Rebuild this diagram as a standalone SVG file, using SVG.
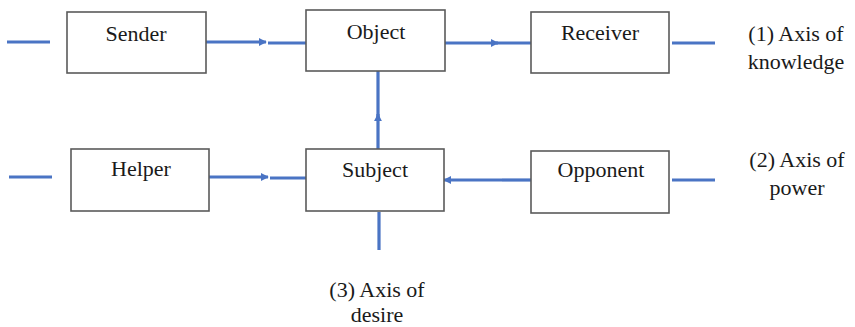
<svg xmlns="http://www.w3.org/2000/svg" width="855" height="327" viewBox="0 0 855 327">
<style>
.box{fill:#fff;stroke:#5a5a5a;stroke-width:1.6}
.lbl{font-size:22px;fill:#1a1a1a;text-anchor:middle}
.ln{stroke:#4a74c4;stroke-width:3.2;fill:none}
</style>
<defs>
<marker id="ah" viewBox="0 0 10 10" refX="9" refY="5" markerWidth="2.6" markerHeight="2.6" orient="auto" markerUnits="strokeWidth">
<path d="M0,0 L10,5 L0,10 z" fill="#4a74c4"/>
</marker>
</defs>
<g id="connectors">
<line class="ln" x1="7" y1="42" x2="50" y2="42"/>
<line class="ln" x1="206" y1="42" x2="266" y2="42" marker-end="url(#ah)"/>
<line class="ln" x1="268" y1="43" x2="306" y2="43"/>
<line class="ln" x1="445" y1="43" x2="498" y2="43" marker-end="url(#ah)"/>
<line class="ln" x1="496" y1="43" x2="531" y2="43"/>
<line class="ln" x1="672" y1="43" x2="715" y2="43"/>
<line class="ln" x1="378" y1="149" x2="378" y2="114" marker-end="url(#ah)"/>
<line class="ln" x1="378" y1="118" x2="378" y2="71"/>
<line class="ln" x1="9" y1="177" x2="52" y2="177"/>
<line class="ln" x1="209" y1="177" x2="268" y2="177" marker-end="url(#ah)"/>
<line class="ln" x1="270" y1="178" x2="306" y2="178"/>
<line class="ln" x1="531" y1="180" x2="502" y2="180"/>
<line class="ln" x1="502" y1="180" x2="444" y2="180" marker-end="url(#ah)"/>
<line class="ln" x1="672" y1="180" x2="715" y2="180"/>
<line class="ln" x1="379" y1="212" x2="379" y2="250"/>
</g>
<g font-family="Liberation Serif, DejaVu Serif, serif">
<g id="sender"><rect class="box" x="67" y="12" width="139" height="61"/><text class="lbl" x="136" y="41">Sender</text></g>
<g id="object"><rect class="box" x="306" y="10" width="139" height="61"/><text class="lbl" x="376" y="39">Object</text></g>
<g id="receiver"><rect class="box" x="531" y="12" width="138" height="61"/><text class="lbl" x="600" y="40">Receiver</text></g>
<g id="helper"><rect class="box" x="71" y="149" width="138" height="62"/><text class="lbl" x="141" y="176">Helper</text></g>
<g id="subject"><rect class="box" x="306" y="149" width="138" height="62"/><text class="lbl" x="375" y="177">Subject</text></g>
<g id="opponent"><rect class="box" x="531" y="151" width="138" height="62"/><text class="lbl" x="601" y="177">Opponent</text></g>
<g id="axis1"><text class="lbl" x="796" y="41">(1) Axis of</text><text class="lbl" x="796" y="69">knowledge</text></g>
<g id="axis2"><text class="lbl" x="797" y="167">(2) Axis of</text><text class="lbl" x="797" y="195">power</text></g>
<g id="axis3"><text class="lbl" x="377" y="297">(3) Axis of</text><text class="lbl" x="377" y="322">desire</text></g>
</g>
</svg>
